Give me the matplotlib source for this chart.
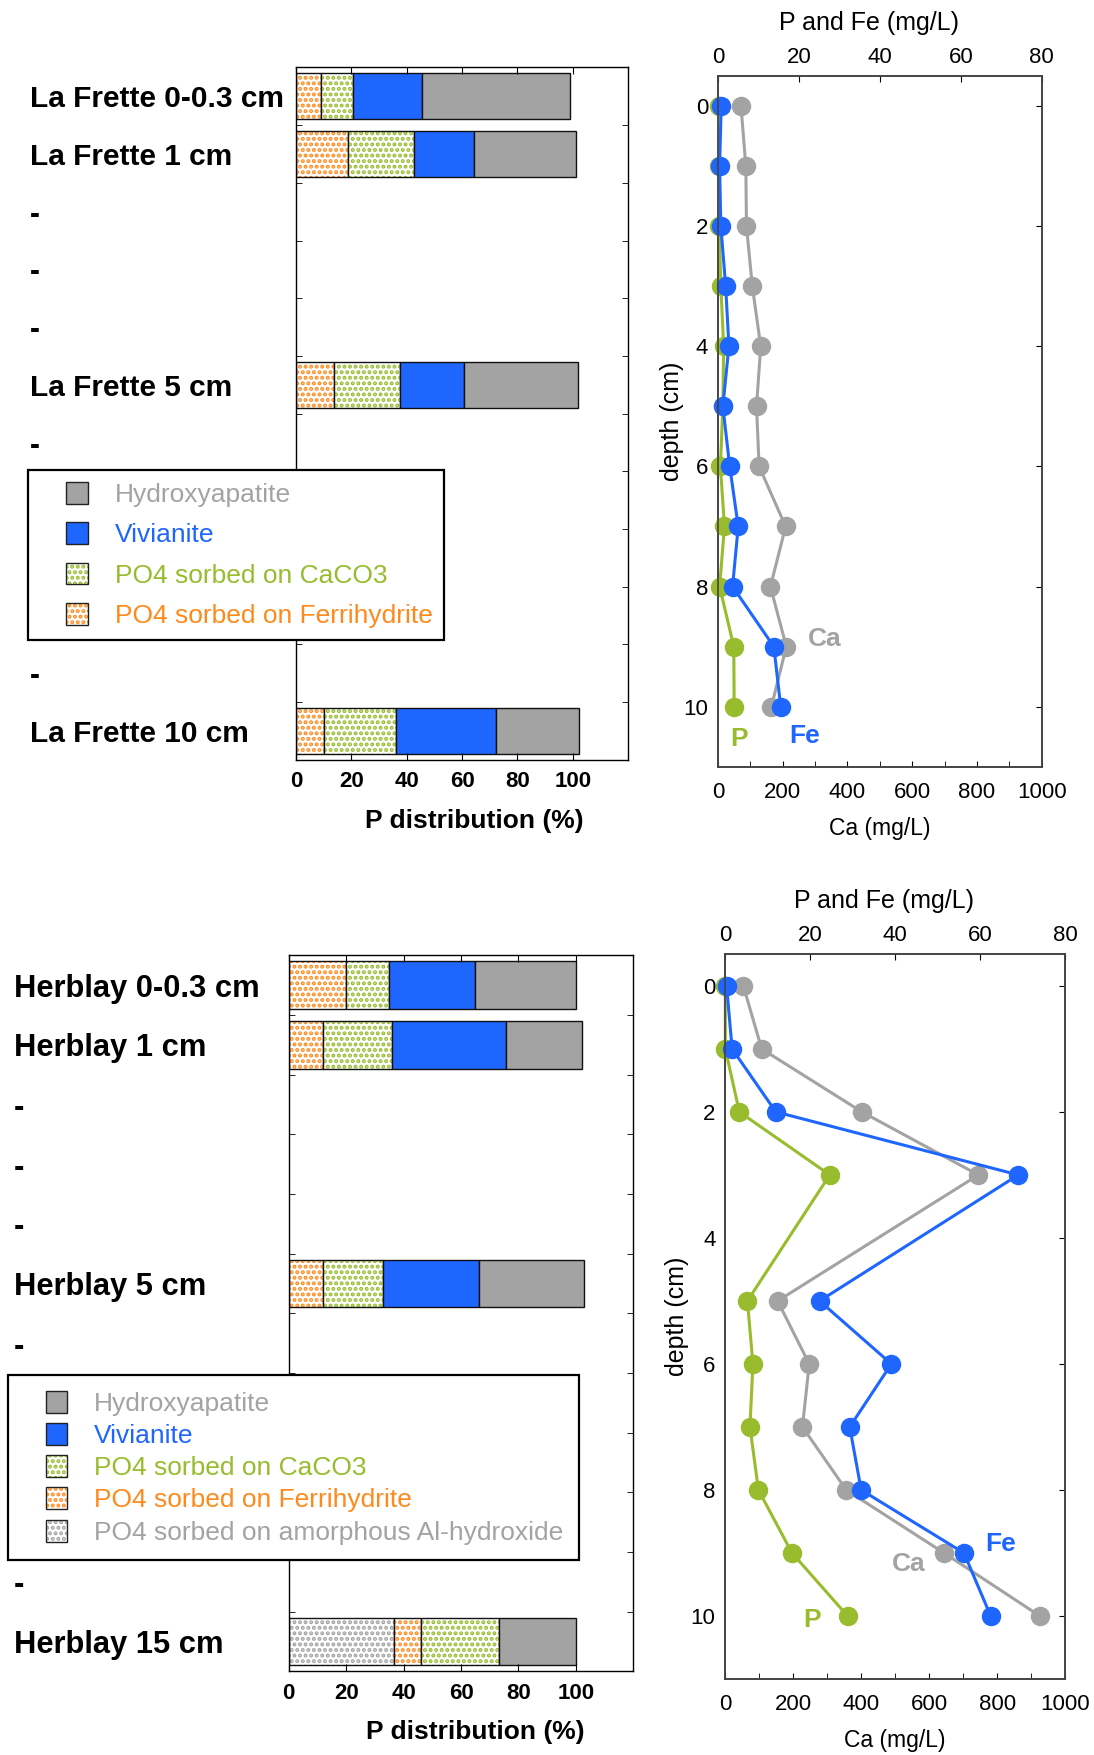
import numpy as np
import matplotlib.pyplot as plt
from matplotlib.patches import Patch, Rectangle
from matplotlib.legend_handler import HandlerBase
from matplotlib.ticker import MultipleLocator, FixedLocator

plt.rcParams['font.family'] = ['Liberation Sans', 'DejaVu Sans']
plt.rcParams['hatch.linewidth'] = 2.0

GREY = '#a3a3a3'
BLUE = '#1f66ff'
GREEN = '#99bb2e'
ORANGE = '#ff8a1c'

# --- P speciation (LCF), % of total P ---
lf_labels = ['La Frette 0-0.3 cm', 'La Frette 1 cm', '-', '-', '-', 'La Frette 5 cm',
             '-', '-', '-', '-', '-', 'La Frette 10 cm']
lf_rows = [0, 1, 5, 11]
lf_alhyd = [0, 0, 0, 0]
lf_ferri = [9.0, 18.8, 13.7, 10.1]
lf_caco3 = [11.7, 23.8, 23.8, 26.0]
lf_vivi = [24.7, 21.8, 23.1, 36.0]
lf_hap = [53.7, 36.9, 41.3, 30.3]

hb_labels = ['Herblay 0-0.3 cm', 'Herblay 1 cm', '-', '-', '-', 'Herblay 5 cm',
             '-', '-', '-', '-', '-', 'Herblay 15 cm']
hb_rows = [0, 1, 5, 11]
hb_alhyd = [0, 0, 0, 36.8]
hb_ferri = [20.1, 12.1, 12.1, 9.2]
hb_caco3 = [14.9, 23.7, 20.9, 27.1]
hb_vivi = [30.0, 40.0, 33.1, 0]
hb_hap = [34.9, 26.2, 36.9, 26.8]

# --- porewater profiles ---
lf_depth = [0, 1, 2, 3, 4, 5, 6, 7, 8, 9, 10]
lf_P = [0.2, 0.2, 0.3, 0.7, 1.4, 1.2, 0.6, 1.6, 0.4, 3.9, 4.0]
lf_Fe = [0.8, 0.4, 0.7, 1.9, 2.7, 1.2, 2.9, 5.0, 3.6, 13.8, 15.5]
lf_Ca = [71, 86, 88, 106, 132, 119, 127, 209, 162, 211, 165]

hb_depth = [0, 1, 2, 3, 5, 6, 7, 8, 9, 10]
hb_P = [0.0, 0.0, 3.3, 24.6, 5.2, 6.5, 5.8, 7.8, 15.7, 28.8]
hb_Fe = [0.3, 1.6, 11.9, 69.0, 22.2, 39.1, 29.3, 32.0, 56.2, 62.5]
hb_Ca = [53, 107, 402, 745, 154, 247, 227, 356, 644, 926]


def stacked(ax, rows, comps):
    rows = np.asarray(rows)
    left = np.zeros(len(rows))
    for vals, face, hatchc in comps:
        vals = np.asarray(vals, float)
        m = vals > 0
        if m.any():
            if hatchc:
                ax.barh(rows[m], vals[m], left=left[m], height=0.8, color='white',
                        hatch='...', edgecolor=hatchc, lw=0)
                ax.barh(rows[m], vals[m], left=left[m], height=0.8, fill=False,
                        edgecolor='#111111', lw=1)
            else:
                ax.barh(rows[m], vals[m], left=left[m], height=0.8, color=face,
                        edgecolor='#111111', lw=1)
        left += vals


def style_bars(ax, labels, pad, lsize, xlab_x):
    ax.set_xlim(0, 120)
    ax.set_ylim(len(labels) - 0.5, -0.5)
    ax.set_xticks([0, 20, 40, 60, 80, 100])
    ax.set_yticks(range(len(labels)))
    ax.set_yticklabels(labels, fontsize=lsize, fontweight='bold', ha='left')
    ax.yaxis.set_minor_locator(FixedLocator(np.arange(0.5, len(labels) - 1, 1)))
    ax.tick_params(axis='y', which='major', length=0, pad=pad)
    ax.tick_params(axis='y', which='minor', direction='in', length=4, left=True, right=True)
    ax.tick_params(axis='x', direction='in', length=5, top=True, pad=8,
                   labelsize=16)
    for t in ax.get_xticklabels():
        t.set_fontweight('bold')
    ax.set_xlabel('P distribution (%)', fontsize=19, fontweight='bold', labelpad=12)
    ax.xaxis.label.set_x(xlab_x)
    for s in ax.spines.values():
        s.set_linewidth(1.0)


def profile(ax, depth, P, Fe, Ca, txt, ylab_x):
    ax.plot(Ca, depth, '-o', color=GREY, lw=2.2, ms=13, clip_on=False)
    ax.set_xlim(0, 1000)
    ax.set_ylim(11, -0.5)
    ax.xaxis.set_major_locator(MultipleLocator(200))
    ax.xaxis.set_minor_locator(MultipleLocator(100))
    ax.yaxis.set_major_locator(MultipleLocator(2))
    ax.tick_params(axis='x', which='both', direction='in', length=4, pad=11, labelsize=16)
    ax.tick_params(axis='y', direction='in', length=4, left=False, right=True,
                   pad=7, labelsize=16)
    ax.set_xlabel('Ca (mg/L)', fontsize=16.5, labelpad=10)
    ax.set_ylabel('depth (cm)', fontsize=18)
    ax.yaxis.set_label_coords(ylab_x, 0.5)
    ax2 = ax.twiny()
    ax2.plot(P, depth, '-o', color=GREEN, lw=2.2, ms=13, clip_on=False)
    ax2.plot(Fe, depth, '-o', color=BLUE, lw=2.2, ms=13, clip_on=False)
    ax2.set_xlim(0, 80)
    ax2.xaxis.set_major_locator(MultipleLocator(20))
    ax2.tick_params(axis='x', direction='in', length=4, pad=6, labelsize=16)
    ax2.set_xlabel('P and Fe (mg/L)', fontsize=18, labelpad=12)
    ax2.xaxis.label.set_x(0.467)
    for a in (ax, ax2):
        for s in a.spines.values():
            s.set_color('#444444')
            s.set_linewidth(1.2)
    for (name, x, y, c) in txt:
        ax.text(x, y, name, color=c, fontsize=19, fontweight='bold',
                ha='center', va='center', zorder=10)


class SquareHandler(HandlerBase):
    def create_artists(self, legend, orig, xdescent, ydescent, width, height,
                       fontsize, trans):
        size = height
        x0 = -xdescent + width - size
        y0 = -ydescent
        face = Rectangle((x0, y0), size, size, facecolor=orig.get_facecolor(),
                         edgecolor=orig.get_edgecolor(), hatch=orig.get_hatch(),
                         lw=0, transform=trans)
        edge = Rectangle((x0, y0), size, size, fill=False, edgecolor='#222222',
                         lw=1, transform=trans)
        return [face, edge]


def add_legend(fig, entries, anchor, spacing, bpad, hlen):
    handles = []
    for lab, face, hatchc, tc in entries:
        if hatchc:
            handles.append(Patch(facecolor='white', edgecolor=hatchc, hatch='...'))
        else:
            handles.append(Patch(facecolor=face, edgecolor=face))
    labels = [e[0] for e in entries]
    leg = fig.legend(handles, labels, loc='upper left', bbox_to_anchor=anchor,
                     borderaxespad=0, fontsize=19, frameon=True, fancybox=False,
                     framealpha=1, edgecolor='black', handlelength=hlen,
                     handleheight=0.9, handletextpad=1.0, borderpad=bpad,
                     labelspacing=spacing,
                     handler_map={Patch: SquareHandler()})
    leg.get_frame().set_linewidth(1.6)
    for t, e in zip(leg.get_texts(), entries):
        t.set_color(e[3])
    return leg


fig = plt.figure(figsize=(10.94, 17.55), dpi=100)
ax_lf = fig.add_axes([0.2706, 0.5670, 0.3035, 0.3946])
ax_hb = fig.add_axes([0.2639, 0.0476, 0.3150, 0.4080])
ax_lfp = fig.add_axes([0.6563, 0.5631, 0.2959, 0.3936])
ax_hbp = fig.add_axes([0.6630, 0.0433, 0.3105, 0.4129])

stacked(ax_lf, lf_rows, [(lf_alhyd, None, GREY), (lf_ferri, None, ORANGE),
                         (lf_caco3, None, GREEN), (lf_vivi, BLUE, None),
                         (lf_hap, GREY, None)])
style_bars(ax_lf, lf_labels, 191.5, 21.5, 0.537)

stacked(ax_hb, hb_rows, [(hb_alhyd, None, GREY), (hb_ferri, None, ORANGE),
                         (hb_caco3, None, GREEN), (hb_vivi, BLUE, None),
                         (hb_hap, GREY, None)])
style_bars(ax_hb, hb_labels, 198, 22.2, 0.542)

profile(ax_lfp, lf_depth, lf_P, lf_Fe, lf_Ca,
        [('Ca', 330, 8.87, GREY), ('P', 65, 10.53, GREEN), ('Fe', 268, 10.48, BLUE)],
        -0.105)
profile(ax_hbp, hb_depth, hb_P, hb_Fe, hb_Ca,
        [('Fe', 811, 8.85, BLUE), ('Ca', 541, 9.17, GREY), ('P', 254, 10.07, GREEN)],
        -0.107)

add_legend(fig, [('Hydroxyapatite', GREY, None, GREY),
                 ('Vivianite', BLUE, None, BLUE),
                 ('PO4 sorbed on CaCO3', None, GREEN, GREEN),
                 ('PO4 sorbed on Ferrihydrite', None, ORANGE, ORANGE)],
           (0.0256, 0.7322), 0.58, 0.45, 1.83)
add_legend(fig, [('Hydroxyapatite', GREY, None, GREY),
                 ('Vivianite', BLUE, None, BLUE),
                 ('PO4 sorbed on CaCO3', None, GREEN, GREEN),
                 ('PO4 sorbed on Ferrihydrite', None, ORANGE, ORANGE),
                 ('PO4 sorbed on amorphous Al-hydroxide', None, GREY, GREY)],
           (0.0071, 0.2165), 0.27, 0.6, 1.66)

fig.savefig('out.png', dpi=100)
